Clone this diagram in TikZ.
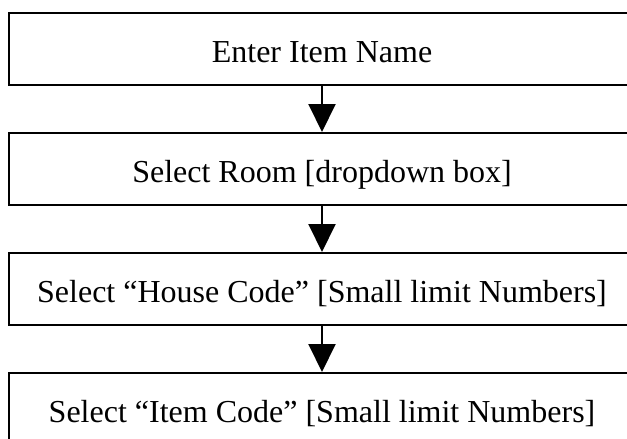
\documentclass[tikz,border=0pt]{standalone}
\usepackage{fontspec}
\setmainfont{Liberation Serif}
\usetikzlibrary{arrows.meta}
\begin{document}
\begin{tikzpicture}[x=1pt,y=-1pt,
  stepbox/.style={draw=black,line width=2pt,rectangle,minimum width=626pt,minimum height=72pt,inner sep=0pt,text height=26pt,text depth=0pt,font=\fontsize{32}{38}\selectfont},
  flow/.style={line width=2pt,-{Triangle[width=27pt,length=28pt]}}]
\useasboundingbox (0,0) rectangle (627,439);
\node[stepbox] (a) at (322,49) {Enter Item Name};
\node[stepbox] (b) at (322,169) {Select Room [dropdown box]};
\node[stepbox] (c) at (322,289) {Select “House Code” [Small limit Numbers]};
\node[stepbox] (d) at (322,409) {Select “Item Code” [Small limit Numbers]};
\draw[flow] (a) -- (b);
\draw[flow] (b) -- (c);
\draw[flow] (c) -- (d);
\end{tikzpicture}
\end{document}
